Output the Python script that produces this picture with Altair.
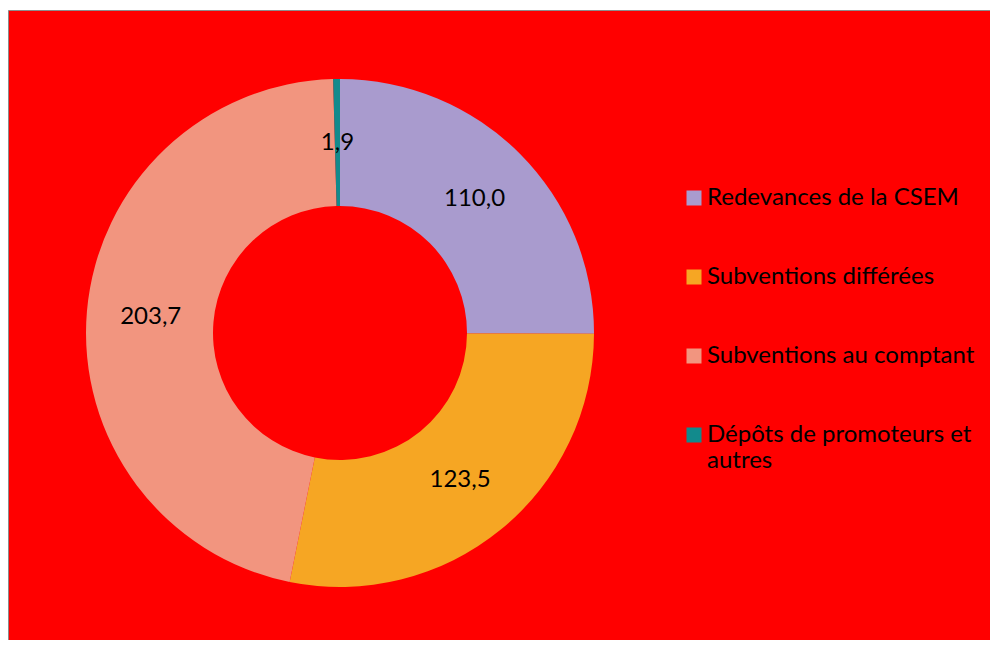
import altair as alt
import pandas as pd

categories = ["Redevances de la CSEM", "Subventions différées",
              "Subventions au comptant", "Dépôts de promoteurs et autres"]
values = [110.0, 123.5, 203.7, 1.9]
labels = ["110,0", "123,5", "203,7", "1,9"]
colors = ["#A99BCE", "#F6A623", "#F2957F", "#128A8C"]
order = [0, 1, 2, 3]

df = pd.DataFrame({"cat": categories, "val": values, "label": labels, "ord": order})

FONT = "Lato"
CX, CY = 332, 323

base = alt.Chart(df).encode(
    theta=alt.Theta("val:Q", stack=True),
    order=alt.Order("ord:Q"),
)

arcs = base.mark_arc(outerRadius=254, innerRadius=127, strokeWidth=0).encode(
    color=alt.Color(
        "cat:N",
        sort=categories,
        scale=alt.Scale(domain=categories, range=colors),
        legend=alt.Legend(
            title=None,
            orient="none",
            legendX=674,
            legendY=176,
            symbolType="square",
            symbolSize=225,
            symbolStrokeWidth=0,
            labelFont=FONT,
            labelFontSize=24,
            labelColor="black",
            labelOffset=1,
            labelLimit=400,
            rowPadding=55,
            labelExpr="datum.label == 'Dépôts de promoteurs et autres' ? ['Dépôts de promoteurs et', 'autres'] : datum.label",
        ),
    ),
    x=alt.value(CX),
    y=alt.value(CY),
)

text = base.mark_text(radius=190, font=FONT, fontSize=24, color="black").encode(
    text="label:N",
    x=alt.value(CX),
    y=alt.value(CY),
)

chart = (
    alt.layer(arcs, text)
    .properties(
        width=982,
        height=630,
        padding={"top": 2, "left": 0, "right": 0, "bottom": 0},
        autosize=alt.AutoSizeParams(type="none"),
        background="white",
        title=alt.Title("(en millions de dollars)", anchor="start", font=FONT,
                        fontSize=22, fontWeight="normal", color="black", offset=4),
    )
    .configure_view(fill="#FF0000", stroke="#8C8C8C", strokeWidth=1)
)

chart.save("out.html", embed_options={"renderer": "svg", "actions": False})
